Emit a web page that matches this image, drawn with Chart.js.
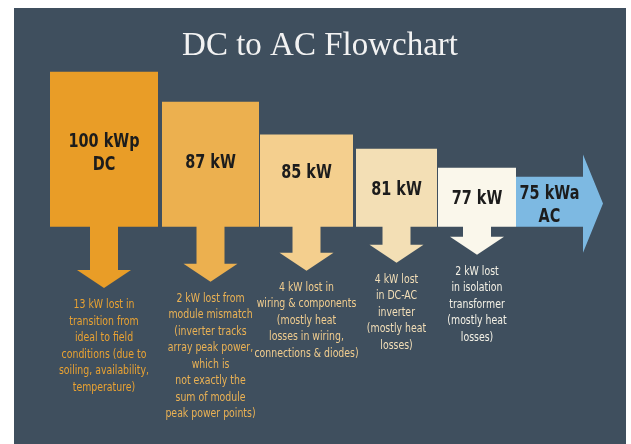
<!DOCTYPE html>
<html>
<head>
<meta charset="utf-8">
<script src="https://cdn.jsdelivr.net/npm/chart.js@4/dist/chart.umd.min.js"></script>
<style>
  html, body { margin: 0; background: #fff; }
  #panel { position: absolute; left: 14px; top: 8px; width: 612px; height: 436px; background: #3f4f5e; }
</style>
</head>
<body>
<div id="panel"><canvas id="flow"></canvas></div>
<script>
// stages of the power flow
const stageLabels = [['100 kWp', 'DC'], ['87 kW'], ['85 kW'], ['81 kW'], ['77 kW'], ['75 kWa', 'AC']];
const stageKW = [100, 87, 85, 81, 77, 75];

// what each loss is made of (first line gets the kW number)
const lossNotes = [
  ['lost in', 'transition from', 'ideal to field', 'conditions (due to', 'soiling, availability,', 'temperature)'],
  ['lost from', 'module mismatch', '(inverter tracks', 'array peak power,', 'which is', 'not exactly the', 'sum of module', 'peak power points)'],
  ['lost in', 'wiring & components', '(mostly heat', 'losses in wiring,', 'connections & diodes)'],
  ['lost', 'in DC-AC', 'inverter', '(mostly heat', 'losses)'],
  ['lost', 'in isolation', 'transformer', '(mostly heat', 'losses)']
];

// blocks as drawn in the picture (x from / to, drawn height), label height, depth of each loss arrow
const blockFrom = [36, 148, 246, 342, 424, 502];
const blockTo = [144, 245, 339, 423, 502, 569];
const blockHeight = [100, 80.6, 59.4, 50.3, 38.1, 32.3];
const labelAt = [47.1, 41.3, 34.8, 23.9, 18.1, 13.5];
const dropTip = [-39.4, -35.5, -28.4, -23.2, -18.1];

const colors = ['#e99d27', '#ecb04f', '#f4cf8e', '#f3dfb5', '#faf7eb', '#7db9e2'];
const noteColors = ['#e9a232', '#ebb254', '#f1cd8f', '#f3dfb8', '#f4f1e6'];

const shaftHalf = 14, headHalf = 27, headLen = 11.6;

function blockShape(i) {
  const x0 = blockFrom[i], x1 = blockTo[i], top = blockHeight[i];
  const cx = (x0 + x1) / 2, tip = dropTip[i], neck = tip + headLen;
  return [
    {x: x0, y: 0}, {x: x0, y: top}, {x: x1, y: top}, {x: x1, y: 0},
    {x: cx + shaftHalf, y: 0}, {x: cx + shaftHalf, y: neck}, {x: cx + headHalf, y: neck},
    {x: cx, y: tip},
    {x: cx - headHalf, y: neck}, {x: cx - shaftHalf, y: neck}, {x: cx - shaftHalf, y: 0}
  ];
}

function outputShape() {
  const i = blockFrom.length - 1;
  const x0 = blockFrom[i], x1 = blockTo[i], top = blockHeight[i];
  return [
    {x: x0, y: 0}, {x: x0, y: top}, {x: x1, y: top}, {x: x1, y: 46.5},
    {x: x1 + 20, y: 15}, {x: x1, y: -16.8}, {x: x1, y: 0}
  ];
}

const datasets = [];
for (let i = 0; i < blockFrom.length - 1; i++) {
  datasets.push({ data: blockShape(i), backgroundColor: colors[i] });
}
datasets.push({ data: outputShape(), backgroundColor: colors[colors.length - 1] });
datasets.forEach(d => {
  d.showLine = true; d.fill = 'shape'; d.borderWidth = 0; d.pointRadius = 0;
});

// the original uses a condensed face, so squeeze the text sideways
function narrowText(ctx, txt, x, y, sx) {
  ctx.save();
  ctx.translate(x, y);
  ctx.scale(sx, 1);
  ctx.fillText(txt, 0, 0);
  ctx.restore();
}

const flowText = {
  id: 'flowText',
  afterDatasetsDraw(chart) {
    const {ctx, scales: {x, y}} = chart;
    ctx.save();
    ctx.textAlign = 'center';
    ctx.textBaseline = 'middle';

    ctx.font = 'bold 19px "DejaVu Sans", sans-serif';
    ctx.fillStyle = '#1c1c1c';
    stageLabels.forEach((lines, i) => {
      const cx = x.getPixelForValue((blockFrom[i] + blockTo[i]) / 2);
      const cy = y.getPixelForValue(labelAt[i]);
      lines.forEach((t, j) => narrowText(ctx, t, cx, cy + (j - (lines.length - 1) / 2) * 23, 0.76));
    });

    ctx.font = '12px "DejaVu Sans", sans-serif';
    lossNotes.forEach((lines, i) => {
      const loss = stageKW[i] - stageKW[i + 1];
      const cx = x.getPixelForValue((blockFrom[i] + blockTo[i]) / 2);
      const top = y.getPixelForValue(dropTip[i]) + 17;
      ctx.fillStyle = noteColors[i];
      lines.forEach((t, j) => {
        const txt = j === 0 ? loss + ' kW ' + t : t;
        narrowText(ctx, txt, cx, top + j * 16.5, 0.78);
      });
    });
    ctx.restore();
  }
};

new Chart(document.getElementById('flow'), {
  type: 'scatter',
  data: { datasets },
  options: {
    responsive: true,
    maintainAspectRatio: false,
    animation: false,
    layout: { padding: 0 },
    scales: {
      x: { type: 'linear', min: 0, max: 612, display: false },
      y: { type: 'linear', min: -140, max: 100, display: false }
    },
    plugins: {
      legend: { display: false },
      tooltip: { enabled: false },
      title: {
        display: true,
        text: 'DC to AC Flowchart',
        color: '#f2f2f2',
        font: { family: '"Liberation Serif", "DejaVu Serif", serif', size: 33, weight: 'normal' },
        padding: { top: 19, bottom: 5 }
      }
    }
  },
  plugins: [flowText]
});
</script>
</body>
</html>
